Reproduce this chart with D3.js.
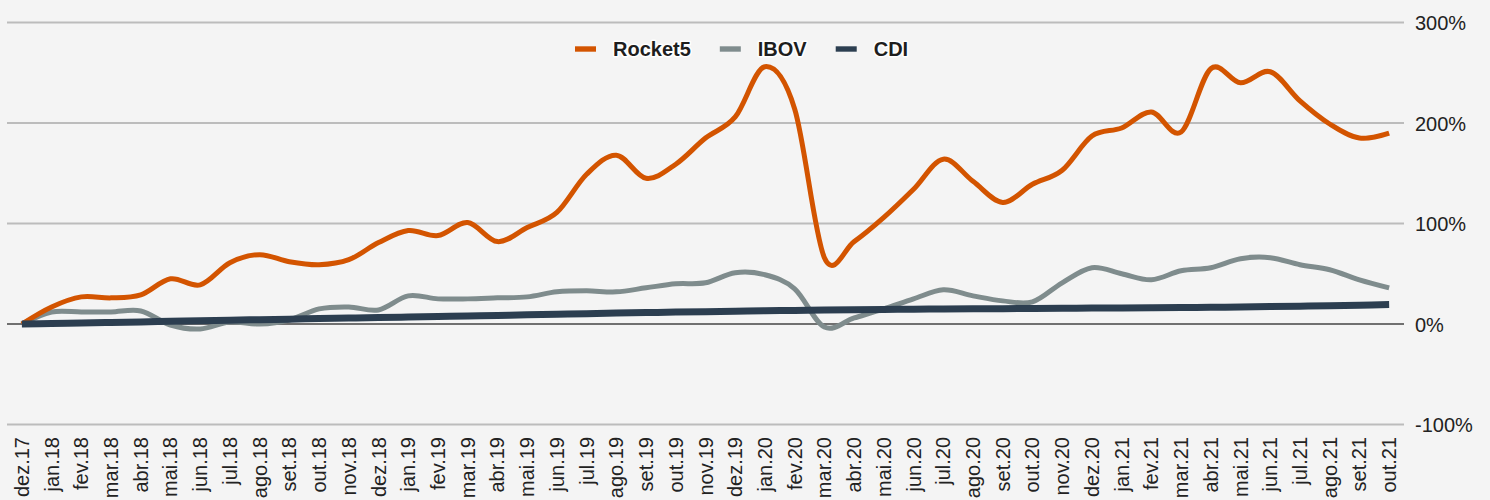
<!DOCTYPE html>
<html><head><meta charset="utf-8">
<script src="https://cdn.jsdelivr.net/npm/d3@7"></script>
<style>
html,body{margin:0;padding:0;background:#f4f4f4;}
svg{display:block;font-family:"Liberation Sans",Arial,sans-serif;}
</style></head>
<body><svg id="c" width="1490" height="500"></svg>
<script>
const categories = ["dez.17","jan.18","fev.18","mar.18","abr.18","mai.18","jun.18","jul.18","ago.18","set.18","out.18","nov.18",
"dez.18","jan.19","fev.19","mar.19","abr.19","mai.19","jun.19","jul.19","ago.19","set.19","out.19","nov.19",
"dez.19","jan.20","fev.20","mar.20","abr.20","mai.20","jun.20","jul.20","ago.20","set.20","out.20","nov.20",
"dez.20","jan.21","fev.21","mar.21","abr.21","mai.21","jun.21","jul.21","ago.21","set.21","out.21"];
const rocket5 = [0,17,27,26,29,45,39,61,69,62,59,64,81,93,88,101,82,96,111,149,168,145,159,185,206,256,214,66,82,106,134,164,142,121,139,153,187,195,211,191,254,240,251,222,199,185,190];
const ibov = [0,12,12,12,13,-1,-5,2,0,4,15,17,14,28,25,25,26,27,32,33,32,36,40,41,51,49,35,-3,6,15,25,34,28,23,22,41,56,50,44,53,56,65,66,59,54,44,36];
const cdi = [0,0.58,1.05,1.59,2.11,2.64,3.16,3.72,4.31,4.80,5.37,5.88,6.40,6.97,7.49,7.99,8.55,9.13,9.64,10.27,10.83,11.34,11.88,12.30,12.72,13.15,13.48,13.86,14.18,14.45,14.70,14.92,15.10,15.28,15.46,15.64,15.82,16.00,16.15,16.38,16.62,16.94,17.29,17.71,18.20,18.72,19.29];
const yTicks = [-100,0,100,200,300];
const seriesNames = ["Rocket5","IBOV","CDI"];

(function(){
const colors = {"Rocket5":"#d35400","IBOV":"#7f8c8d","CDI":"#2c3e50"};
const widths = {"Rocket5":5,"IBOV":5,"CDI":7};
const seriesData = {"Rocket5":rocket5,"IBOV":ibov,"CDI":cdi};

const svg = d3.select("#c");
const pLeft = 7, pRight = 1404, pTop = 22.5, pBottom = 424.5;

const x = d3.scaleBand().domain(categories).range([pLeft,pRight]).padding(0);
const cx = d => x(d) + x.bandwidth()/2;
const y = d3.scaleLinear().domain([-100,300]).range([pBottom,pTop]);

// gridlines
svg.append("g").selectAll("line").data(yTicks.filter(t=>t!==0)).join("line")
  .attr("x1",pLeft).attr("x2",pRight)
  .attr("y1",d=>y(d)).attr("y2",d=>y(d))
  .attr("stroke","#bcbcbc").attr("stroke-width",2);

// right axis labels
const yAxis = d3.axisRight(y).tickValues(yTicks).tickFormat(d=>d+"%").tickSize(0).tickPadding(0);
const ya = svg.append("g").attr("transform",`translate(${pRight+11},0)`).call(yAxis);
ya.select(".domain").remove();
ya.selectAll("text").attr("font-size",20).attr("fill","#222").attr("font-family","Liberation Sans, Arial, sans-serif").attr("dy","0.35em").attr("x",0);

// zero line
svg.append("line").attr("x1",pLeft).attr("x2",pRight).attr("y1",y(0)).attr("y2",y(0))
  .attr("stroke","#444").attr("stroke-width",1.3);

// x axis labels
const xAxis = d3.axisBottom(x).tickSize(0).tickPadding(0);
const xa = svg.append("g").attr("transform",`translate(0,${pBottom+12.5})`).call(xAxis);
xa.select(".domain").remove();
xa.selectAll("text")
  .attr("font-size",20).attr("fill","#222").attr("font-family","Liberation Sans, Arial, sans-serif")
  .attr("text-anchor","end")
  .attr("transform","rotate(-90)")
  .attr("x",0).attr("y",0).attr("dy","0.35em");

// lines
const line = d3.line().x((d,i)=>cx(categories[i])).y(d=>y(d)).curve(d3.curveCardinal.tension(0));
["IBOV","Rocket5","CDI"].forEach(name=>{
  svg.append("path").datum(seriesData[name])
    .attr("d",line).attr("fill","none")
    .attr("stroke",colors[name]).attr("stroke-width",widths[name])
    .attr("stroke-linejoin","round").attr("stroke-linecap","butt");
});

// legend
const lg = svg.append("g").attr("transform","translate(575,49)");
let lx = 0;
seriesNames.forEach(name=>{
  const g = lg.append("g").attr("transform",`translate(${lx},0)`);
  g.append("rect").attr("x",0).attr("y",-2.7).attr("width",21).attr("height",5.4).attr("fill",colors[name]);
  const t = g.append("text").attr("x",38).attr("y",0).attr("dy","0.36em")
    .attr("font-size",20).attr("font-weight","bold").attr("fill","#1e1e1e")
    .attr("stroke","#ffffff").attr("stroke-width",3).attr("paint-order","stroke").attr("stroke-linejoin","round")
    .text(name);
  const w = t.node().getComputedTextLength();
  lx += 38 + w + 29;
});
})();
</script>
</body></html>
